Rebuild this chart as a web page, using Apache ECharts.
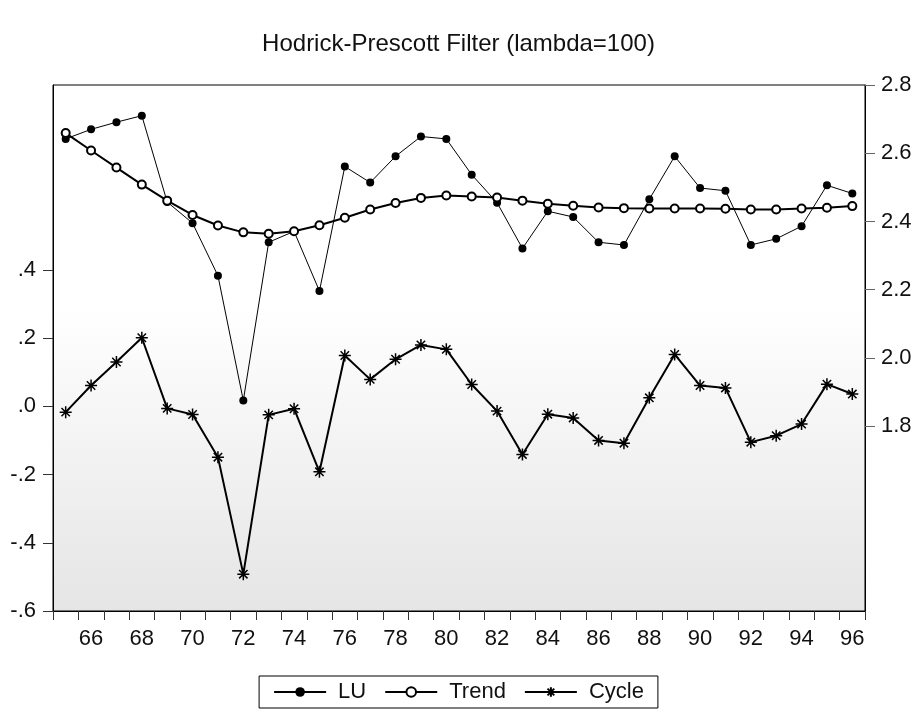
<!DOCTYPE html>
<html>
<head>
<meta charset="utf-8">
<script src="https://cdn.jsdelivr.net/npm/echarts@6/dist/echarts.min.js"></script>
<style>
html,body{margin:0;padding:0;background:#fff;}
#chart{width:917px;height:722px;}
</style>
</head>
<body>
<div id="chart"></div>
<script>
const years = ['65','66','67','68','69','70','71','72','73','74','75','76','77','78','79','80',
  '81','82','83','84','85','86','87','88','89','90','91','92','93','94','95','96'];
const luValues = [2.642,2.670,2.691,2.710,2.457,2.395,2.241,1.875,2.339,2.371,2.196,2.561,2.514,2.591,2.649,2.642,
  2.537,2.455,2.321,2.430,2.413,2.339,2.331,2.465,2.591,2.498,2.490,2.331,2.349,2.386,2.506,2.482];
const trendValues = [2.659,2.608,2.558,2.508,2.461,2.419,2.388,2.368,2.364,2.371,2.389,2.411,2.435,2.454,2.469,2.476,
  2.473,2.470,2.461,2.452,2.446,2.441,2.439,2.438,2.438,2.438,2.437,2.435,2.435,2.438,2.440,2.445];
const cycleValues = [-0.017,0.061,0.130,0.201,-0.006,-0.024,-0.149,-0.492,-0.025,-0.007,-0.192,0.149,0.079,0.138,0.180,0.167,
  0.064,-0.014,-0.141,-0.023,-0.034,-0.100,-0.108,0.025,0.152,0.061,0.054,-0.105,-0.086,-0.052,0.065,0.036];
const leftTicks = [-0.6,-0.4,-0.2,0,0.2,0.4];
const rightTicks = [1.8,2.0,2.2,2.4,2.6,2.8];
const seriesNames = ['LU','Trend','Cycle'];

const FONT = '"Liberation Sans", Arial, sans-serif';
const chart = echarts.init(document.getElementById('chart'), null, {renderer:'canvas'});
const star = 'path://M5 0L5 10M0 5L10 5M1.5 1.5L8.5 8.5M8.5 1.5L1.5 8.5';

function leftFmt(v){
  let s = Number(v).toFixed(1);
  s = s.replace(/^(-?)0\./, '$1.');
  return s;
}

const option = {
  backgroundColor: '#ffffff',
  animation: false,
  title: {
    text: 'Hodrick-Prescott Filter (lambda=100)',
    left: 'center', top: 27,
    textStyle: {fontFamily: FONT, fontSize: 24, fontWeight: 'normal', color: '#111'}
  },
  legend: {
    data: seriesNames,
    left: 'center', top: 676,
    itemWidth: 52, itemHeight: 12, itemGap: 18,
    padding: [5, 14, 5, 14],
    borderColor: '#000', borderWidth: 1,
    textStyle: {fontFamily: FONT, fontSize: 22, color: '#111', padding: [0, 0, 0, 7]}
  },
  grid: {
    left: 53, right: 52, top: 85, bottom: 111,
    show: true,
    borderColor: '#000', borderWidth: 1,
    backgroundColor: new echarts.graphic.LinearGradient(0,0,0,1,[
      {offset:0, color:'#ffffff'},
      {offset:0.42, color:'#ffffff'},
      {offset:1, color:'#e5e5e5'}
    ])
  },
  xAxis: {
    type: 'category',
    data: years,
    boundaryGap: true,
    axisLine: {show: true, onZero: false, lineStyle: {color: '#000', width: 1}},
    axisTick: {show: true, interval: 0, alignWithLabel: false, length: 9, lineStyle: {color: '#333'}},
    axisLabel: {
      interval: function(i, v){ return Number(v) % 2 === 0; },
      margin: 17,
      fontFamily: FONT, fontSize: 22, color: '#111'
    },
    splitLine: {show: false}
  },
  yAxis: [
    {
      type: 'value', position: 'left',
      min: -0.6, max: 0.942,
      axisLine: {show: true, lineStyle: {color: '#000', width: 1}},
      axisTick: {show: true, customValues: leftTicks, length: 10, lineStyle: {color: '#333'}},
      axisLabel: {customValues: leftTicks, formatter: leftFmt, margin: 17,
        fontFamily: FONT, fontSize: 22, color: '#111'},
      splitLine: {show: false}
    },
    {
      type: 'value', position: 'right',
      min: 1.258, max: 2.8,
      axisLine: {show: true, lineStyle: {color: '#000', width: 1}},
      axisTick: {show: true, customValues: rightTicks, length: 10, lineStyle: {color: '#666'}},
      axisLabel: {customValues: rightTicks, formatter: function(v){return Number(v).toFixed(1);}, margin: 16,
        fontFamily: FONT, fontSize: 22, color: '#111'},
      splitLine: {show: false}
    }
  ],
  series: [
    {
      name: 'LU', type: 'line', yAxisIndex: 1, data: luValues,
      symbol: 'circle', symbolSize: 8, showSymbol: true, showAllSymbol: true,
      lineStyle: {color: '#000', width: 1},
      itemStyle: {color: '#000'},
      emphasis: {disabled: true}
    },
    {
      name: 'Trend', type: 'line', yAxisIndex: 1, data: trendValues,
      symbol: 'emptyCircle', symbolSize: 8, showSymbol: true, showAllSymbol: true,
      lineStyle: {color: '#000', width: 2},
      itemStyle: {color: '#000', borderColor: '#000', borderWidth: 1},
      emphasis: {disabled: true}
    },
    {
      name: 'Cycle', type: 'line', yAxisIndex: 0, data: cycleValues,
      symbol: star, symbolSize: 12, showSymbol: true, showAllSymbol: true,
      lineStyle: {color: '#000', width: 2},
      itemStyle: {color: '#000', borderColor: '#000', borderWidth: 1.5},
      emphasis: {disabled: true}
    }
  ]
};
chart.setOption(option);
</script>
</body>
</html>
